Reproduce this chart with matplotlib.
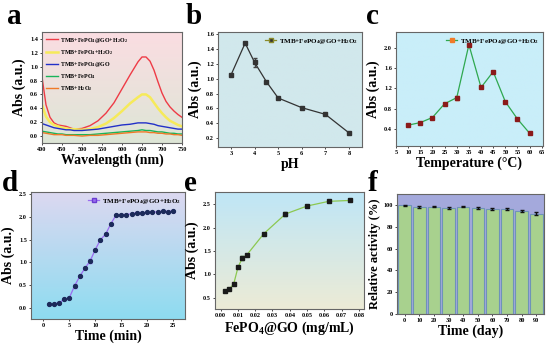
import numpy as np
import matplotlib
matplotlib.use('Agg')
import matplotlib.pyplot as plt
from matplotlib.colors import LinearSegmentedColormap

plt.rcParams['font.family'] = ['Liberation Serif', 'DejaVu Serif']
plt.rcParams['font.weight'] = 'bold'
plt.rcParams['mathtext.default'] = 'regular'

# ---- data ----
# a: UV-vis spectra
wl = [400, 410, 420, 430, 440, 450, 460, 470, 480, 500, 520, 540, 560, 580, 600,
      620, 640, 650, 660, 670, 680, 690, 700, 710, 720, 730, 740, 750]
sp_red = [0.85, 0.45, 0.27, 0.19, 0.16, 0.15, 0.14, 0.12, 0.10, 0.11, 0.15, 0.22, 0.33, 0.48, 0.68,
          0.88, 1.07, 1.14, 1.14, 1.08, 0.95, 0.78, 0.62, 0.50, 0.42, 0.36, 0.31, 0.27]
sp_yel = [0.45, 0.28, 0.20, 0.16, 0.14, 0.12, 0.11, 0.10, 0.10, 0.09, 0.10, 0.13, 0.18, 0.26, 0.36,
          0.47, 0.56, 0.60, 0.60, 0.56, 0.48, 0.40, 0.33, 0.27, 0.22, 0.19, 0.16, 0.14]
sp_blu = [0.18, 0.16, 0.14, 0.12, 0.11, 0.10, 0.09, 0.09, 0.08, 0.08, 0.09, 0.10, 0.12, 0.14, 0.16,
          0.17, 0.19, 0.19, 0.19, 0.18, 0.17, 0.15, 0.14, 0.13, 0.12, 0.11, 0.10, 0.10]
sp_grn = [0.07, 0.06, 0.05, 0.04, 0.03, 0.03, 0.02, 0.02, 0.02, 0.02, 0.02, 0.03, 0.04, 0.05, 0.06,
          0.07, 0.08, 0.09, 0.08, 0.08, 0.07, 0.06, 0.06, 0.05, 0.04, 0.04, 0.03, 0.03]
sp_org = [0.05, 0.04, 0.03, 0.02, 0.02, 0.02, 0.01, 0.01, 0.01, 0.00, 0.01, 0.01, 0.02, 0.03, 0.04,
          0.05, 0.06, 0.06, 0.06, 0.05, 0.05, 0.04, 0.04, 0.03, 0.03, 0.02, 0.02, 0.01]
sp_labels = ['TMB+FePO$_4$@GO+H$_2$O$_2$', 'TMB+FePO$_4$+H$_2$O$_2$', 'TMB+FePO$_4$@GO',
             'TMB+FePO$_4$', 'TMB+H$_2$O$_2$']
sp_colors = ['#ee3b46', '#f6ea5a', '#2230c8', '#19b45a', '#f07a28']

# b: pH
ph = [3, 3.6, 4, 4.5, 5, 6, 7, 8]
ph_abs = [1.05, 1.48, 1.22, 0.96, 0.74, 0.61, 0.52, 0.27]
ph_err = [0.01, 0.01, 0.06, 0.01, 0.01, 0.01, 0.01, 0.01]

# c: temperature
temp = [10, 15, 20, 25, 30, 35, 40, 45, 50, 55, 60]
temp_abs = [0.48, 0.53, 0.63, 0.90, 1.02, 2.06, 1.22, 1.53, 0.94, 0.60, 0.32]
temp_err = [0.01, 0.01, 0.01, 0.01, 0.04, 0.01, 0.01, 0.01, 0.01, 0.01, 0.01]

# d: time
tmin = list(range(1, 26))
t_abs = [0.07, 0.08, 0.11, 0.18, 0.22, 0.48, 0.69, 0.87, 1.03, 1.28, 1.50, 1.62, 1.85,
         2.04, 2.05, 2.05, 2.07, 2.09, 2.09, 2.10, 2.11, 2.11, 2.13, 2.12, 2.13]
t_err = [0.01, 0.01, 0.01, 0.01, 0.01, 0.04, 0.02, 0.02, 0.05, 0.02, 0.02, 0.02, 0.02,
         0.01, 0.01, 0.01, 0.01, 0.01, 0.01, 0.01, 0.01, 0.01, 0.01, 0.01, 0.01]

# e: concentration
conc = [0.0025, 0.005, 0.0075, 0.01, 0.0125, 0.015, 0.025, 0.0375, 0.05, 0.0625, 0.075]
c_abs = [0.64, 0.69, 0.79, 1.15, 1.35, 1.41, 1.87, 2.29, 2.46, 2.56, 2.58]
c_err = [0.02, 0.01, 0.01, 0.01, 0.05, 0.01, 0.02, 0.04, 0.03, 0.01, 0.01]

# f: stability
day = [0, 10, 20, 30, 40, 50, 60, 70, 80, 90]
act = [99.5, 98.0, 98.5, 97.5, 98.3, 97.2, 96.3, 96.5, 94.5, 92.0]
act_err = [0.5, 1.0, 0.6, 1.0, 0.5, 0.6, 0.8, 1.0, 0.6, 1.2]

fig = plt.figure(figsize=(5.5, 3.44), dpi=100)
W, H = 550, 344


def add_ax(l, t, r, b):
    return fig.add_axes([l / W, 1 - b / H, (r - l) / W, (b - t) / H])


def bg(ax, top, bottom):
    cmap = LinearSegmentedColormap.from_list('g', [bottom, top])
    ax.imshow(np.linspace(0, 1, 100).reshape(-1, 1), cmap=cmap, origin='lower',
              extent=[0, 1, 0, 1], transform=ax.transAxes, aspect='auto', zorder=0)


def style(ax, xlabel, ylabel, xls=10, yls=10, ypad=2):
    ax.tick_params(labelsize=4.5, length=1.5, width=0.5, pad=1.5)
    for s in ax.spines.values():
        s.set_color('#666666')
        s.set_linewidth(0.8)
    ax.set_xlabel(xlabel, fontsize=xls, fontweight='bold', labelpad=1)
    ax.set_ylabel(ylabel, fontsize=yls, fontweight='bold', labelpad=ypad)
    for t in ax.get_xticklabels() + ax.get_yticklabels():
        t.set_fontweight('bold')


def letter(x, y, s):
    fig.text(x / W, 1 - y / H, s, fontsize=21, fontweight='bold', ha='left', va='top')


def one_legend(ax, **kw):
    ax.legend(loc='upper right', frameon=False, fontsize=5, handlelength=1.7,
              borderaxespad=0.25, handletextpad=0.3, **kw)


# ---- a ----
ax = add_ax(42, 32, 182, 143)
bg(ax, '#fbdde2', '#dde6d6')
for ys, c, lab in zip([sp_red, sp_yel, sp_blu, sp_grn, sp_org], sp_colors, sp_labels):
    ax.plot(wl, ys, color=c, lw=1.0 if c != '#f6ea5a' else 1.8, label=lab, zorder=2)
ax.set_xlim(400, 750)
ax.set_ylim(-0.1, 1.5)
ax.set_xticks(range(400, 751, 50))
ax.set_yticks(np.arange(0, 1.41, 0.2))
ax.yaxis.set_major_formatter(matplotlib.ticker.FormatStrFormatter('%.1f'))
ax.legend(loc='upper left', frameon=False, fontsize=4.3, handlelength=2.0,
          labelspacing=0.55, borderaxespad=0.2, handletextpad=0.4)
style(ax, 'Wavelength (nm)', 'Abs (a.u.)', ypad=3)
letter(7, 3, 'a')

# ---- b ----
ax = add_ax(218, 32, 362, 147)
bg(ax, '#d1e8ec', '#d1e8ec')
ax.errorbar(ph, ph_abs, yerr=ph_err, color='#333333', lw=0.9, marker='s', ms=2.4,
            mfc='#333333', ecolor='#444444', elinewidth=1.0, capsize=1.5, zorder=2)
ax.plot([], [], color='#8a8a2a', marker='s', ms=2.4, mfc='#333333', lw=0.9,
        label='TMB+FePO$_4$@GO+H$_2$O$_2$')
one_legend(ax)
ax.set_xlim(2.45, 8.55)
ax.set_ylim(0.08, 1.63)
ax.set_xticks(range(3, 9))
ax.set_yticks(np.arange(0.2, 1.61, 0.2))
ax.yaxis.set_major_formatter(matplotlib.ticker.FormatStrFormatter('%.1f'))
style(ax, 'pH', 'Abs (a.u.)', ypad=3)
letter(186, 3, 'b')

# ---- c ----
ax = add_ax(396, 32, 543, 146)
bg(ax, '#c9eef9', '#c9eef9')
ax.errorbar(temp, temp_abs, yerr=temp_err, color='#2fa84f', lw=0.9, marker='s', ms=2.4,
            mfc='#8b1a1a', mec='#8b1a1a', ecolor='#f05a28', elinewidth=1.5, capsize=1.5, zorder=2)
ax.plot([], [], color='#2fa84f', marker='s', ms=2.4, mfc='#f07a28', mec='#f07a28', lw=0.9,
        label='TMB+FePO$_4$@GO+H$_2$O$_2$')
one_legend(ax)
ax.set_xlim(5, 65.5)
ax.set_ylim(0.07, 2.31)
ax.set_xticks(range(5, 66, 5))
ax.set_yticks([0.4, 0.8, 1.2, 1.6, 2.0])
ax.yaxis.set_major_formatter(matplotlib.ticker.FormatStrFormatter('%.1f'))
style(ax, 'Temperature (°C)', 'Abs (a.u.)', ypad=3)
letter(366, 3, 'c')

# ---- d ----
ax = add_ax(31, 192, 185, 319)
bg(ax, '#dcd8f0', '#8edcf0')
ax.errorbar(tmin, t_abs, yerr=t_err, color='#9a6cf0', lw=0.9, marker='o', ms=2.8,
            mfc='#1c2a5a', mec='#1c2a5a', ecolor='#9a6cf0', elinewidth=1.0, capsize=1.5, zorder=2)
ax.plot([], [], color='#9a6cf0', marker='s', ms=2.8, mfc='#9a6cf0', mec='#6a3cd0', lw=0.9,
        label='TMB+FePO$_4$@GO+H$_2$O$_2$')
one_legend(ax)
ax.set_xlim(-2.4, 27.3)
ax.set_ylim(-0.25, 2.55)
ax.set_xticks(range(0, 26, 5))
ax.set_yticks(np.arange(0, 2.51, 0.5))
ax.yaxis.set_major_formatter(matplotlib.ticker.FormatStrFormatter('%.1f'))
style(ax, 'Time (min)', 'Abs (a.u.)', ypad=3)
letter(2, 170, 'd')

# ---- e ----
ax = add_ax(215, 192, 364, 309)
bg(ax, '#bfe6f6', '#ecebd6')
ax.errorbar(conc, c_abs, yerr=c_err, color='#8cc850', lw=0.9, marker='s', ms=2.4,
            mfc='#1a1a1a', mec='#1a1a1a', ecolor='#4a8a2a', elinewidth=1.0, capsize=1.5, zorder=2)
ax.set_xlim(-0.0033, 0.083)
ax.set_ylim(0.26, 2.76)
ax.set_xticks(np.arange(0, 0.081, 0.01))
ax.xaxis.set_major_formatter(matplotlib.ticker.FormatStrFormatter('%.2f'))
ax.set_yticks(np.arange(0.5, 2.51, 0.5))
ax.yaxis.set_major_formatter(matplotlib.ticker.FormatStrFormatter('%.1f'))
style(ax, 'FePO$_4$@GO (mg/mL)', 'Abs (a.u.)', ypad=3)
letter(184, 170, 'e')

# ---- f ----
ax = add_ax(397, 194, 544, 314)
ax.set_facecolor('#a4a9dc')
ax.bar(day, act, width=8.6, color='#a8d18e', edgecolor='#6f93b8', linewidth=0.8,
       yerr=act_err, error_kw=dict(ecolor='#111111', elinewidth=1.0, capsize=1.5), zorder=2)
ax.set_xlim(-5.2, 95.2)
ax.set_ylim(0, 110)
ax.set_xticks(day)
ax.set_yticks(range(0, 101, 20))
style(ax, 'Time (day)', 'Relative activity (%)', yls=9, ypad=2)
letter(368, 170, 'f')

fig.savefig('out.png', dpi=100)
